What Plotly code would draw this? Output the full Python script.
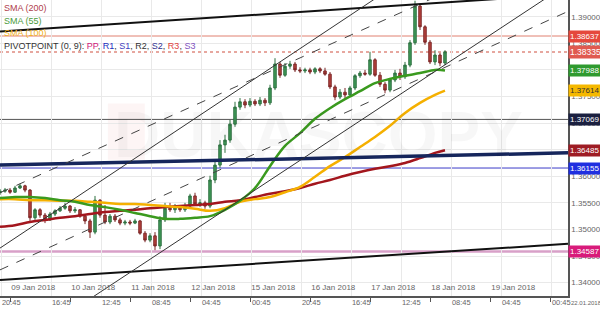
import pandas as pd
import plotly.graph_objects as go

# ---------------- data ----------------
bar_start = "2018-01-08 20:00"     # 2-hour bars, weekends skipped
bar_count = 90

open_ = [1.3569,1.3572,1.3574,1.3570,1.3578,1.3582,1.3574,1.3522,1.3537,1.3527,
         1.3518,1.3529,1.3535,1.3540,1.3544,1.3535,1.3537,1.3525,1.3516,1.3495,
         1.3555,1.3527,1.3514,1.3525,1.3518,1.3512,1.3514,1.3512,1.3516,1.3493,
         1.3480,1.3488,1.3469,1.3518,1.3540,1.3537,1.3542,1.3537,1.3544,1.3563,
         1.3548,1.3550,1.3544,1.3593,1.3621,1.3659,1.3668,1.3698,1.3730,1.3740,
         1.3734,1.3741,1.3736,1.3743,1.3738,1.3766,1.3811,1.3790,1.3807,1.3811,
         1.3800,1.3798,1.3800,1.3796,1.3802,1.3798,1.3792,1.3768,1.3749,1.3758,
         1.3753,1.3766,1.3789,1.3794,1.3792,1.3819,1.3790,1.3773,1.3762,1.3781,
         1.3794,1.3787,1.3809,1.3851,1.3920,1.3881,1.3852,1.3815,1.3828,1.3813]
high = [1.3576,1.3578,1.3578,1.3582,1.3586,1.3584,1.3576,1.3540,1.3540,1.3531,
        1.3533,1.3538,1.3544,1.3550,1.3546,1.3542,1.3538,1.3529,1.3520,1.3563,
        1.3557,1.3546,1.3529,1.3529,1.3522,1.3518,1.3518,1.3520,1.3518,1.3497,
        1.3493,1.3495,1.3525,1.3550,1.3550,1.3548,1.3546,1.3550,1.3567,1.3569,
        1.3557,1.3554,1.3601,1.3631,1.3668,1.3678,1.3706,1.3740,1.3747,1.3745,
        1.3747,1.3745,1.3749,1.3747,1.3772,1.3822,1.3815,1.3813,1.3817,1.3815,
        1.3805,1.3804,1.3804,1.3805,1.3805,1.3804,1.3796,1.3772,1.3764,1.3766,
        1.3770,1.3792,1.3798,1.3800,1.3834,1.3822,1.3796,1.3777,1.3785,1.3800,
        1.3802,1.3815,1.3856,1.3930,1.3924,1.3884,1.3856,1.3837,1.3832,1.3837]
low = [1.3565,1.3569,1.3567,1.3569,1.3576,1.3570,1.3516,1.3518,1.3522,1.3512,
       1.3516,1.3525,1.3533,1.3537,1.3531,1.3531,1.3522,1.3510,1.3484,1.3491,
       1.3522,1.3510,1.3510,1.3514,1.3508,1.3508,1.3508,1.3510,1.3490,1.3476,
       1.3476,1.3461,1.3463,1.3514,1.3533,1.3531,1.3533,1.3533,1.3540,1.3544,
       1.3542,1.3539,1.3540,1.3587,1.3616,1.3644,1.3663,1.3693,1.3725,1.3728,
       1.3730,1.3732,1.3732,1.3732,1.3734,1.3762,1.3785,1.3787,1.3802,1.3796,
       1.3794,1.3794,1.3792,1.3792,1.3794,1.3789,1.3764,1.3743,1.3745,1.3747,
       1.3749,1.3762,1.3785,1.3789,1.3789,1.3787,1.3768,1.3756,1.3758,1.3777,
       1.3781,1.3783,1.3805,1.3847,1.3875,1.3847,1.3811,1.3809,1.3807,1.3809]
close = [1.3572,1.3574,1.3570,1.3578,1.3582,1.3574,1.3522,1.3537,1.3527,1.3518,
         1.3529,1.3535,1.3540,1.3544,1.3535,1.3537,1.3525,1.3516,1.3495,1.3555,
         1.3527,1.3514,1.3525,1.3518,1.3512,1.3514,1.3512,1.3516,1.3493,1.3480,
         1.3488,1.3469,1.3518,1.3540,1.3537,1.3542,1.3537,1.3544,1.3563,1.3548,
         1.3550,1.3544,1.3593,1.3621,1.3659,1.3668,1.3698,1.3730,1.3740,1.3734,
         1.3741,1.3736,1.3743,1.3738,1.3766,1.3811,1.3790,1.3807,1.3811,1.3800,
         1.3798,1.3800,1.3796,1.3802,1.3798,1.3792,1.3768,1.3749,1.3758,1.3753,
         1.3766,1.3789,1.3794,1.3792,1.3819,1.3790,1.3773,1.3762,1.3781,1.3794,
         1.3787,1.3809,1.3851,1.3920,1.3881,1.3852,1.3815,1.3828,1.3813,1.3834]

# moving averages sampled every 3rd bar + last bar
sma200 = [1.3505,1.3508,1.3514,1.3518,1.3522,1.3525,1.3529,1.3533,1.3535,1.3537,
          1.3540,1.3542,1.3544,1.3546,1.3548,1.3552,1.3555,1.3561,1.3567,1.3572,
          1.3578,1.3586,1.3593,1.3601,1.3608,1.3614,1.3619,1.3625,1.3634,1.3644,1.3649]
sma55 = [1.3559,1.3561,1.3561,1.3559,1.3555,1.3552,1.3546,1.3542,1.3537,1.3531,
         1.3525,1.3520,1.3520,1.3522,1.3525,1.3537,1.3554,1.3578,1.3619,1.3657,
         1.3681,1.3708,1.3728,1.3745,1.3760,1.3775,1.3783,1.3789,1.3794,1.3800,1.3799]
sma100 = [1.3557,1.3557,1.3555,1.3555,1.3554,1.3554,1.3552,1.3550,1.3548,1.3548,
          1.3546,1.3544,1.3542,1.3539,1.3535,1.3540,1.3552,1.3557,1.3561,1.3570,
          1.3580,1.3599,1.3619,1.3636,1.3655,1.3674,1.3695,1.3719,1.3738,1.3753,1.3761]

# trend lines (value at view start / view end)
view_range = ["2018-01-08 20:00", "2018-01-22 07:12"]
trend_upper = [1.3872, 1.3942]
trend_lower = [1.3405, 1.3473]
trend_navy = [1.3621, 1.3644]
channel_dash_a = [1.3569, 1.4049]
channel_solid_b = [1.3465, 1.4175]
channel_dash_c = [1.3424, 1.3910]
channel_solid_d = [1.3258, 1.3962]

# horizontal levels
level_values = [1.38637, 1.38335, 1.37069, 1.36155, 1.34587]
level_colors = ["#e08070", "#e08a80", "#555555", "#3a3ac8", "#d8a0c8"]
level_dash = ["solid", "dot", "solid", "solid", "solid"]
level_width = [1, 1.5, 1, 1, 2.5]

# right-side price labels
label_values = [1.38637, 1.38335, 1.37988, 1.37614, 1.37069, 1.36485, 1.36155, 1.34587]
label_texts = ["1.38637", "1.38335", "1.37988", "1.37614", "1.37069", "1.36485", "1.36155", "1.34587"]
label_bg = ["#e5483c", "#e05a50", "#2f9a2f", "#f5b800", "#1b2040", "#9e1c24", "#1f2fe0", "#d81b7a"]
label_fg = ["white", "white", "white", "#333333", "white", "white", "white", "white"]
label_size = [8, 8.5, 8, 8, 8, 8, 8, 8]

y_ticks = [1.34, 1.345, 1.35, 1.355, 1.36, 1.365, 1.37, 1.375, 1.38, 1.385, 1.39]
y_range = [1.33749, 1.39314]

date_ticks = ["2018-01-09", "2018-01-10", "2018-01-11", "2018-01-12", "2018-01-15",
              "2018-01-16", "2018-01-17", "2018-01-18", "2018-01-19", "2018-01-22"]
date_labels = ["09 Jan 2018", "10 Jan 2018", "11 Jan 2018", "12 Jan 2018", "15 Jan 2018",
               "16 Jan 2018", "17 Jan 2018", "18 Jan 2018", "19 Jan 2018", "22 Jan"]
time_ticks = ["2018-01-08 20:45", "2018-01-09 16:45", "2018-01-10 12:45", "2018-01-11 08:45",
              "2018-01-12 04:45", "2018-01-15 00:45", "2018-01-15 20:45", "2018-01-16 16:45",
              "2018-01-17 12:45", "2018-01-18 08:45", "2018-01-19 04:45", "2018-01-22 00:45"]
time_labels = ["20:45", "16:45", "12:45", "08:45", "04:45", "00:45",
               "20:45", "16:45", "12:45", "08:45", "04:45", "00:45"]
corner_date = "22.01.2018"

# ---------------- build ----------------
FONT = "Liberation Sans, Arial, sans-serif"
times = pd.date_range(bar_start, periods=bar_count * 2, freq="2h")
times = times[times.dayofweek < 5][:bar_count]
sma_times = list(times[::3]) + [times[-1]]

fig = go.Figure()

# faint watermark
fig.add_shape(type="rect", xref="paper", yref="paper", x0=0.19, x1=0.255, y0=0.46, y1=0.65,
              fillcolor="rgba(220,60,60,0.05)", line_width=0, layer="below")
fig.add_annotation(text="<b>DUKASCOPY</b>", x=0.56, y=0.545, xref="paper", yref="paper",
                   showarrow=False, font=dict(family=FONT, size=64, color="rgba(0,0,0,0.03)"))
fig.add_annotation(text="Swiss FX & CFD Marketplace", x=0.56, y=0.355, xref="paper", yref="paper",
                   showarrow=False, font=dict(family=FONT, size=26, color="rgba(0,0,0,0.025)"))

for v, c, d, w in zip(level_values, level_colors, level_dash, level_width):
    fig.add_hline(y=v, line=dict(color=c, dash=d, width=w), layer="below")

fig.add_trace(go.Candlestick(
    x=times, open=open_, high=high, low=low, close=close,
    increasing=dict(line=dict(color="#2e7040", width=1), fillcolor="#3f9a58"),
    decreasing=dict(line=dict(color="#7a2626", width=1), fillcolor="#b8423c"),
    whiskerwidth=0, showlegend=False, hoverinfo="skip"))

for vals, col in [(sma200, "#a3161d"), (sma100, "#f5b000"), (sma55, "#3a9a1e")]:
    fig.add_trace(go.Scatter(x=sma_times, y=vals, mode="lines", line=dict(color=col, width=2.5, shape="spline"),
                             showlegend=False, hoverinfo="skip"))

for vals, col, w, d in [(trend_upper, "#111111", 2, "solid"), (trend_lower, "#111111", 2, "solid"),
                        (trend_navy, "#16265c", 3.5, "solid"),
                        (channel_dash_a, "#444444", 1, "dash"), (channel_solid_b, "#333333", 1, "solid"),
                        (channel_dash_c, "#444444", 1, "dash"), (channel_solid_d, "#333333", 1, "solid")]:
    fig.add_trace(go.Scatter(x=view_range, y=vals, mode="lines", line=dict(color=col, width=w, dash=d),
                             showlegend=False, hoverinfo="skip"))

# helper trace for the time axis
fig.add_trace(go.Scatter(x=view_range, y=[y_range[0], y_range[0]], xaxis="x2", mode="none",
                         showlegend=False, hoverinfo="skip"))

for v, t, bg, fg, sz in zip(label_values, label_texts, label_bg, label_fg, label_size):
    fig.add_annotation(x=1, xref="paper", y=v, yref="y", text=t, showarrow=False,
                       xanchor="left", yanchor="middle", bgcolor=bg, borderpad=1,
                       font=dict(family=FONT, size=sz, color=fg))

legend_rows = [
    ("SMA (200)", "#b0404c", 0.973),
    ("SMA (55)", "#4a9a3a", 0.929),
    ("SMA (100)", "#f0b020", 0.889),
]
for txt, col, yy in legend_rows:
    fig.add_annotation(x=0, xref="paper", y=yy, yref="paper", text=txt, showarrow=False,
                       xanchor="left", yanchor="middle", xshift=2, font=dict(family=FONT, size=9, color=col))
pivot_txt = ("PIVOTPOINT (0, 9): <span style='color:#d0207a'>PP</span>, "
             "<span style='color:#2030c0'>R1</span>, <span style='color:#4040c0'>S1</span>, "
             "<span style='color:#333333'>R2</span>, <span style='color:#303090'>S2</span>, "
             "<span style='color:#e04040'>R3</span>, <span style='color:#8050c0'>S3</span>")
fig.add_annotation(x=0, xref="paper", y=0.845, yref="paper", text=pivot_txt, showarrow=False,
                   xanchor="left", yanchor="middle", xshift=2, font=dict(family=FONT, size=9, color="#333333"))
fig.add_annotation(x=1, xref="paper", y=-0.024, yref="paper", text=corner_date, showarrow=False,
                   xanchor="left", yanchor="middle", xshift=1, font=dict(family=FONT, size=6, color="#666666"))

breaks = [dict(bounds=["sat", "mon"])]
fig.update_layout(
    width=600, height=320, margin=dict(l=0, r=32, t=0, b=24),
    paper_bgcolor="white", plot_bgcolor="white",
    font=dict(family=FONT, size=8, color="#666666"),
    showlegend=False,
    xaxis=dict(type="date", range=view_range, rangebreaks=breaks, rangeslider=dict(visible=False),
               tickvals=date_ticks, ticktext=date_labels, ticklabelposition="inside right",
               ticks="outside", ticklen=4, tickcolor="#555555", showgrid=False, showline=True,
               linecolor="#555555", linewidth=1.5, automargin=False, zeroline=False,
               tickfont=dict(family=FONT, size=8, color="#666666")),
    xaxis2=dict(type="date", range=view_range, rangebreaks=breaks, overlaying="x", side="bottom",
                anchor="y", tickvals=time_ticks, ticktext=time_labels, ticklabelposition="outside right",
                ticks="", showgrid=True, gridcolor="#e9e9e9", showline=False, automargin=False,
                zeroline=False, tickfont=dict(family=FONT, size=7.5, color="#666666")),
    yaxis=dict(side="right", range=y_range, tickvals=y_ticks, tickformat=".5f", showgrid=True,
               gridcolor="#e9e9e9", showline=True, linecolor="#555555", linewidth=1.5, ticks="",
               automargin=False, zeroline=False, tickfont=dict(family=FONT, size=8, color="#666666")),
)

fig.write_html("out.html")
